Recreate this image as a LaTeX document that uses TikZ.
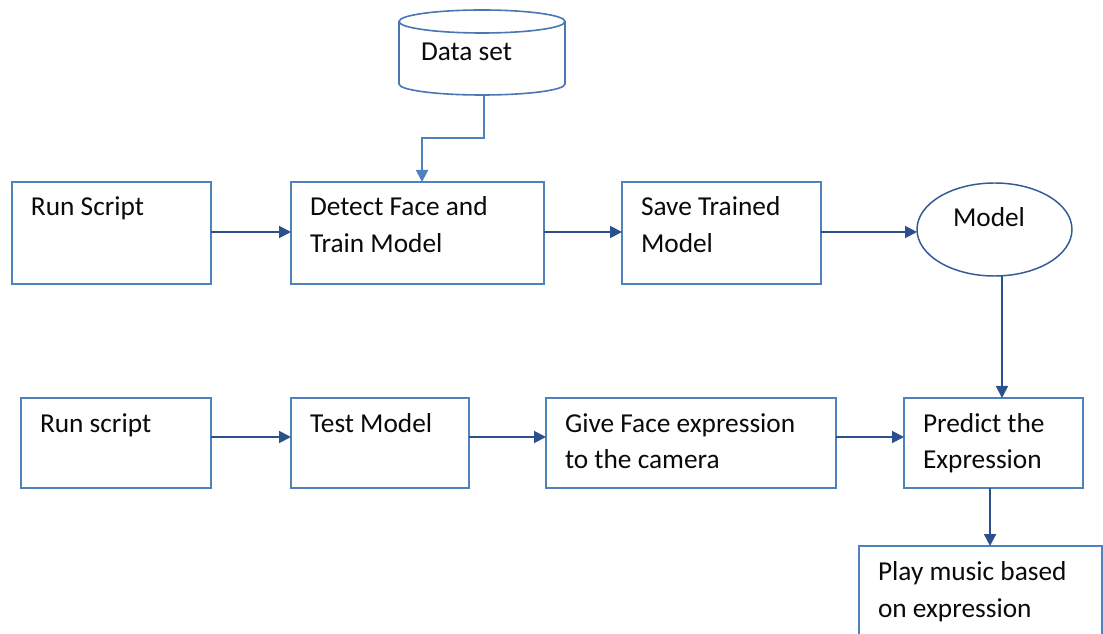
\documentclass[tikz,border=0pt]{standalone}
\usepackage{fontspec}
\setmainfont{Carlito}
\usetikzlibrary{arrows.meta,shapes.geometric}
\definecolor{boxblue}{RGB}{79,129,189}
\definecolor{arrblue}{RGB}{44,80,140}
\definecolor{txtcol}{RGB}{10,10,10}
\tikzset{
  box/.style={draw=boxblue, line width=1.2pt, fill=white, rectangle, inner sep=0pt, outer sep=0pt},
  oval/.style={draw=arrblue!80!boxblue, line width=1.1pt, fill=white, ellipse, inner sep=0pt, outer sep=0pt},
  txt/.style={anchor=base west, inner sep=0pt, outer sep=0pt, align=left, text=txtcol,
    font=\fontsize{20.5pt}{27.75pt}\selectfont},
  arr/.style={draw=arrblue, line width=1.4pt, -{Triangle[length=9pt,width=9pt]}},
  arrl/.style={draw=boxblue, line width=1.4pt, -{Triangle[length=9pt,width=9pt]}},
}
\begin{document}
\begin{tikzpicture}[x=0.75pt,y=-0.75pt]
\useasboundingbox (0,0) rectangle (1103,634);
\clip (0,0) rectangle (1103,634);
% cylinder
\draw[draw=boxblue!80!arrblue, line width=1.2pt, fill=white]
  (399,21.5) -- (399,84) arc[start angle=180, end angle=0, x radius=83, y radius=11] -- (565,21.5);
\draw[draw=boxblue!80!arrblue, line width=1.2pt] (482,21.5) ellipse [x radius=83, y radius=11.5];
\node[txt] (dstxt) at (421,61) {Data set};
\coordinate (dsb) at (484,95);
% row 1
\node[box, minimum width=199*0.75pt, minimum height=102*0.75pt] (rs1) at (111.5,233) {};
\node[box, minimum width=253*0.75pt, minimum height=102*0.75pt] (dt) at (417.5,233) {};
\node[box, minimum width=199*0.75pt, minimum height=102*0.75pt] (sv) at (721.5,233) {};
\node[oval, minimum width=155*0.75pt, minimum height=93*0.75pt] (model) at (994.5,229.5) {};
\node[txt] (rs1t) at ([shift={(19,34)}]rs1.north west) {Run Script};
\node[txt] (dtt) at ([shift={(19,71)}]dt.north west) {Detect Face and\\Train Model};
\node[txt] (svt) at ([shift={(19,71)}]sv.north west) {Save Trained\\Model};
\node[txt] (modelt) at (953,227) {Model};
% row 2
\node[box, minimum width=190*0.75pt, minimum height=90*0.75pt] (rs2) at (116,443) {};
\node[box, minimum width=178*0.75pt, minimum height=90*0.75pt] (tm) at (380,443) {};
\node[box, minimum width=290*0.75pt, minimum height=90*0.75pt] (gf) at (691,443) {};
\node[box, minimum width=179*0.75pt, minimum height=90*0.75pt] (pr) at (993.5,443) {};
\node[box, minimum width=243*0.75pt, minimum height=100*0.75pt] (pl) at (980.5,596) {};
\node[txt] (rs2t) at ([shift={(19,34)}]rs2.north west) {Run script};
\node[txt] (tmt) at ([shift={(19,34)}]tm.north west) {Test Model};
\node[txt] (gft) at ([shift={(19,71)}]gf.north west) {Give Face expression\\to the camera};
\node[txt] (prt) at ([shift={(19,71)}]pr.north west) {Predict the\\Expression};
\node[txt] (plt) at ([shift={(19,71)}]pl.north west) {Play music based\\on expression};
% connectors
\draw[arrl] (dsb) -- ++(0,43) -| ([xshift=3.4pt]dt.north);
\draw[arr] ([yshift=0.75pt]rs1.east) -- ([yshift=0.75pt]dt.west);
\draw[arr] ([yshift=0.75pt]dt.east) -- ([yshift=0.75pt]sv.west);
\draw[arr] ([yshift=0.75pt]sv.east) -- ([yshift=0.75pt]sv.east -| model.west);
\draw[arr] ([xshift=5.6pt]model.south) -- ([xshift=5.6pt]model.south |- pr.north);
\draw[arr] ([yshift=4.5pt]rs2.east) -- ([yshift=4.5pt]tm.west);
\draw[arr] ([yshift=4.5pt]tm.east) -- ([yshift=4.5pt]gf.west);
\draw[arr] ([yshift=4.5pt]gf.east) -- ([yshift=4.5pt]pr.west);
\draw[arr] ([xshift=-2.6pt]pr.south) -- ([xshift=-2.6pt]pr.south |- pl.north);
\end{tikzpicture}
\end{document}
